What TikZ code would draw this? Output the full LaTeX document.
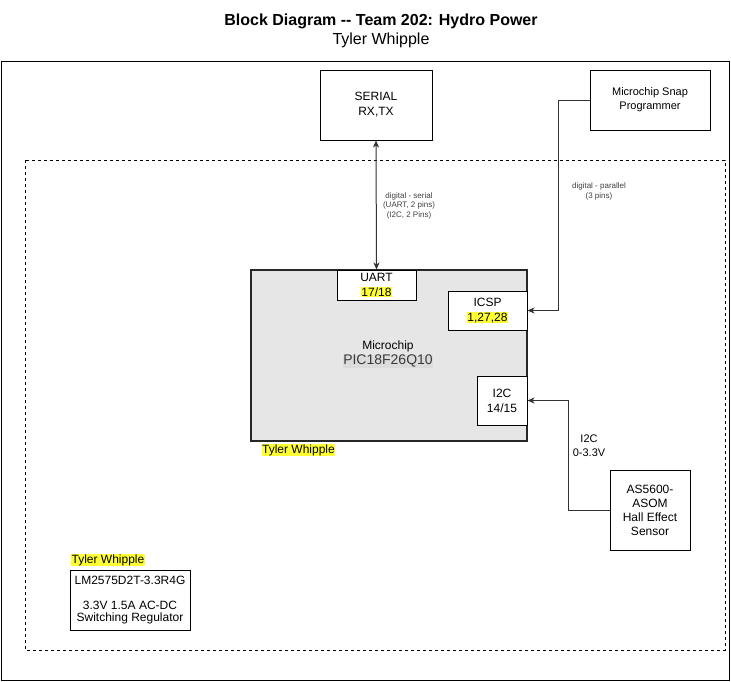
\documentclass[tikz,border=0pt]{standalone}
\usepackage{fontspec}
\setmainfont{Liberation Sans}
\usetikzlibrary{arrows.meta,positioning}
\definecolor{chipfill}{HTML}{E6E6E6}
\definecolor{pichl}{HTML}{DCDCDC}
\definecolor{pictext}{HTML}{3A3A3A}
\definecolor{hlyellow}{HTML}{FFFF33}
\newcommand\hlt[1]{{\setlength\fboxsep{0.6pt}\colorbox{hlyellow}{#1}}}
\newcommand\fs[2]{\fontsize{#1}{#2}\selectfont}
\tikzset{
  box/.style={draw=black, line width=1pt, fill=white, inner sep=0pt, align=center, font=\fs{12}{15}},
  lbl/.style={inner sep=0pt, align=center},
  conn/.style={draw=black!80, line width=1pt, -{Stealth[length=7pt,width=6pt,inset=2pt]}},
}
\begin{document}
\begin{tikzpicture}[x=1pt,y=-1pt]
\useasboundingbox (0,0) rectangle (731,681);
% title
\node[lbl, font=\fs{16}{19}] (title) at (381,31) {\textbf{Block Diagram -{}- Team 202: Hydro Power}\\Tyler Whipple};
% frames
\draw[line width=1pt] (1,61) rectangle (729,680);
\draw[line width=1pt, dash pattern=on 3pt off 3pt] (25,160) rectangle (725,650);
% serial
\node[box, minimum width=112pt, minimum height=70pt] (serial) at (376,105) {SERIAL\\RX,TX};
% snap
\node[box, minimum width=120pt, minimum height=60pt, font=\fs{11}{14}] (snap) at (650,100) {Microchip Snap\\Programmer};
% chip
\node[draw=black!85, line width=2pt, fill=chipfill, minimum width=276pt, minimum height=171pt, inner sep=0pt] (chip) at (389,355.5) {};
\node[lbl, font=\fs{12}{15}] (chiptxt) at (388,354.5) {Microchip\\{\fs{14}{15}\color{pictext}{\setlength\fboxsep{0.5pt}\colorbox{pichl}{PIC18F26Q10}}}};
\node[box, minimum width=79pt, minimum height=30pt] (uart) at (376.5,285) {UART\\\hlt{17/18}};
\node[box, minimum width=79pt, minimum height=39pt] (icsp) at (487.5,310.5) {ICSP\\\hlt{1,27,28}};
\node[box, minimum width=50pt, minimum height=49pt] (i2c) at (502,400.5) {I2C\\14/15};
\node[lbl, font=\fs{12}{15}] (author1) at (298.5,450) {\hlt{Tyler Whipple}};
% sensor
\node[box, minimum width=80pt, minimum height=80pt, font=\fs{12}{14}] (sensor) at (650,510) {AS5600-\\ASOM\\Hall Effect\\Sensor};
% regulator
\node[box, minimum width=120pt, minimum height=60pt, font=\fs{12}{12.5}] (reg) at (130,600) {LM2575D2T-3.3R4G\\[12.5pt]3.3V 1.5A AC-DC\\Switching Regulator};
\node[lbl, font=\fs{12}{15}] (author2) at (108,560) {\hlt{Tyler Whipple}};
% connectors
\draw[conn, {Stealth[length=7pt,width=6pt,inset=2pt]}-{Stealth[length=7pt,width=6pt,inset=2pt]}] (serial.south) -- (uart.north);
\node[lbl, font=\fs{8}{9.5}, text=black!75] (serlbl) at (409,205.5) {digital - serial\\(UART, 2 pins)\\(I2C, 2 Pins)};
\draw[conn] (snap.west) -- ++(-31,0) coordinate (snapc) |- (icsp.east);
\node[lbl, font=\fs{8}{10}, text=black!75] (parlbl) at (599,191) {digital - parallel\\(3 pins)};
\draw[conn] (sensor.west) -- ++(-41,0) coordinate (sensc) |- (i2c.east);
\node[lbl, font=\fs{11}{14}] (i2clbl) at (589,446) {I2C\\0-3.3V};
\end{tikzpicture}
\end{document}
